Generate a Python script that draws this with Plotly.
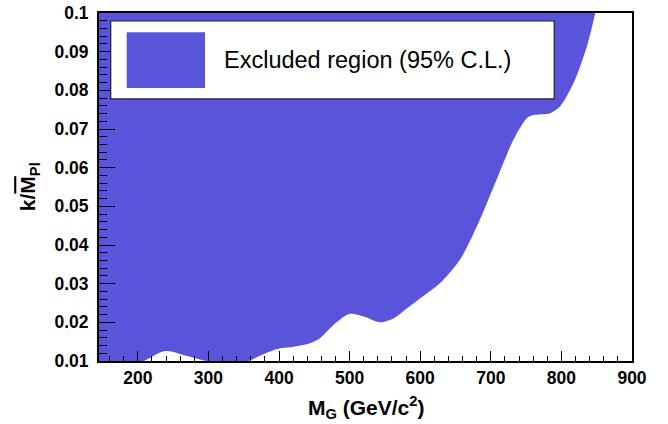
import plotly.graph_objects as go

# Exclusion boundary (graviton mass vs coupling)
mass = [140, 170, 200, 208, 239, 270, 298, 325, 354, 376, 397, 420, 444, 458,
        477, 500, 520, 543, 562, 572, 600, 628, 656, 680, 708, 732, 751, 760,
        784, 798, 817, 836, 848]
coupling = [0.0075, 0.0085, 0.0096, 0.0100, 0.0126, 0.0113, 0.0100, 0.0098,
            0.0099, 0.0116, 0.0131, 0.0137, 0.0146, 0.0159, 0.0193, 0.0222,
            0.0215, 0.0200, 0.0210, 0.0223, 0.0262, 0.0301, 0.0361, 0.0447,
            0.0568, 0.0672, 0.0728, 0.0736, 0.0741, 0.0758, 0.0818, 0.0913,
            0.1000]
# upper edge of the excluded band (beyond the axis top)
top_mass = [140, 848]
top_coupling = [0.12, 0.12]

x_ticks = [200, 300, 400, 500, 600, 700, 800, 900]
y_ticks = [0.01, 0.02, 0.03, 0.04, 0.05, 0.06, 0.07, 0.08, 0.09, 0.1]
y_ticktext = ["0.01", "0.02", "0.03", "0.04", "0.05", "0.06", "0.07", "0.08", "0.09", "0.1"]

FILL = "#5954D9"
FONT = "Liberation Sans, Arial, Helvetica, sans-serif"

fig = go.Figure()
fig.add_trace(go.Scatter(x=top_mass, y=top_coupling, mode="lines",
                         line=dict(width=0, color=FILL), showlegend=False,
                         hoverinfo="skip"))
fig.add_trace(go.Scatter(x=mass, y=coupling, mode="lines",
                         line=dict(width=0, color=FILL, shape="spline", smoothing=0.8),
                         fill="tonexty", fillcolor=FILL, showlegend=False,
                         name="Excluded region (95% C.L.)"))

fig.update_layout(
    width=668, height=424,
    margin=dict(l=99, r=36, t=13, b=63, autoexpand=False),
    paper_bgcolor="white", plot_bgcolor="white",
    font=dict(family=FONT, color="black"),
    showlegend=False,
)
fig.update_xaxes(
    range=[145, 900], tickvals=x_ticks, ticks="inside", ticklen=10, tickwidth=1.3,
    tickcolor="black", showline=True, linewidth=2, linecolor="black", mirror=True,
    showgrid=False, zeroline=False, automargin=False,
    tickfont=dict(family=FONT, size=17.5, weight="bold", color="black"),
    ticklabelstandoff=0,
    minor=dict(dtick=20, tick0=0, ticks="inside", ticklen=5, tickwidth=1.2,
               tickcolor="black", showgrid=False),
)
fig.update_yaxes(
    range=[0.01, 0.1], tickvals=y_ticks, ticktext=y_ticktext, ticks="inside",
    ticklen=16, tickwidth=1.3, tickcolor="black", showline=True, linewidth=2,
    linecolor="black", mirror=True, showgrid=False, zeroline=False, automargin=False,
    tickfont=dict(family=FONT, size=17.5, weight="bold", color="black"),
    ticklabelstandoff=5,
    minor=dict(dtick=0.002, tick0=0, ticks="inside", ticklen=8, tickwidth=1.2,
               tickcolor="black", showgrid=False),
)

# legend drawn as a box
fig.add_shape(type="rect", xref="paper", yref="paper", x0=0.022, x1=0.854,
              y0=0.753, y1=0.977, fillcolor="white", line=dict(color="#222", width=1.2))
fig.add_shape(type="rect", xref="paper", yref="paper", x0=0.052, x1=0.199,
              y0=0.7845, y1=0.945, fillcolor=FILL, line=dict(width=0))
fig.add_annotation(xref="paper", yref="paper", x=0.230, y=0.865, xanchor="left",
                   yanchor="middle", showarrow=False,
                   text="Excluded region (95% C.L.)",
                   font=dict(family=FONT, size=23.5, color="black"))

# axis titles
fig.add_annotation(xref="paper", yref="paper", x=0.5, y=-0.135, xanchor="center",
                   yanchor="middle", showarrow=False,
                   text="M<sub>G</sub> (GeV/c<sup>2</sup>)",
                   font=dict(family=FONT, size=21, weight="bold", color="black"))
fig.add_annotation(xref="paper", yref="paper", x=-0.131, y=0.5, xanchor="center",
                   yanchor="middle", showarrow=False, textangle=-90,
                   text="k/<span style='text-decoration:overline'>M</span><sub>Pl</sub>",
                   font=dict(family=FONT, size=21, weight="bold", color="black"))

fig.write_html("out.html", config={"displayModeBar": False},
               post_script="document.body.style.margin='0';")
